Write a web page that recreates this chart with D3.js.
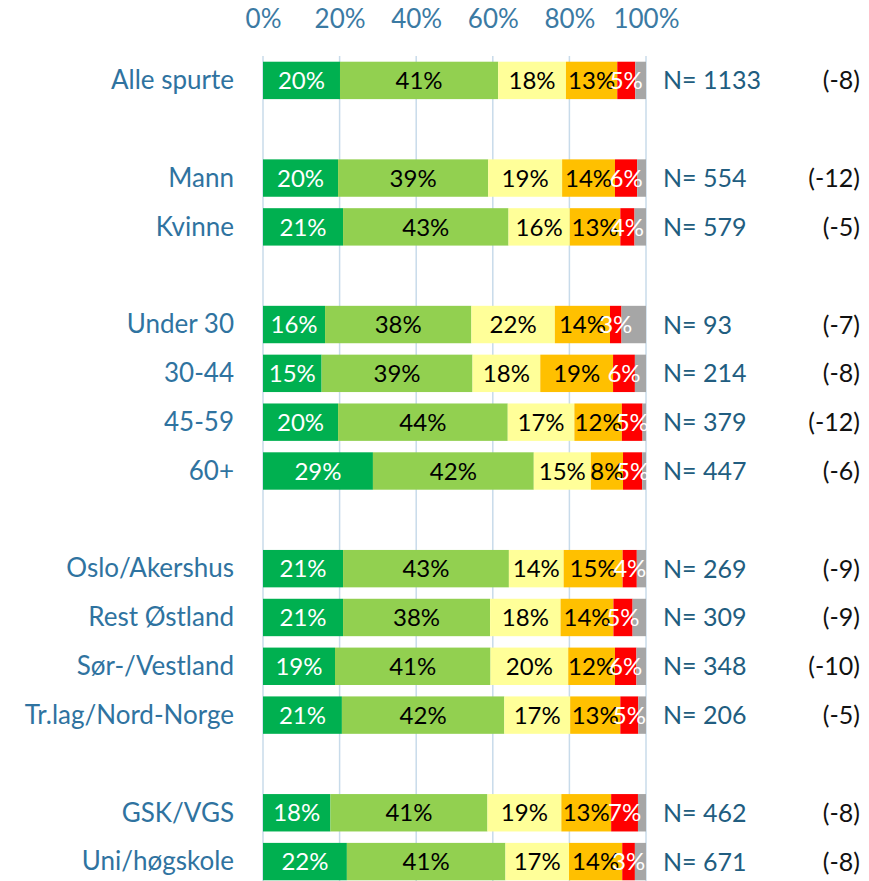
<!DOCTYPE html>
<html>
<head>
<meta charset="utf-8">
<script src="https://cdn.jsdelivr.net/npm/d3@7"></script>
<style>
  body { margin: 0; background: #fff; }
  svg { font-family: Lato, "Open Sans", sans-serif; }
</style>
</head>
<body>
<div id="chart"></div>
<script>
// rows of the chart, "" = empty spacer row
var categories = ["Alle spurte", "", "Mann", "Kvinne", "", "Under 30", "30-44", "45-59", "60+", "",
  "Oslo/Akershus", "Rest Østland", "Sør-/Vestland", "Tr.lag/Nord-Norge", "", "GSK/VGS", "Uni/høgskole"];

// shares in percent, one entry per non-empty row (grey = the rest up to 100)
var darkGreen  = [20.1, 19.6, 20.9, 16.2, 15.3, 19.6, 28.7, 20.9, 20.9, 18.8, 20.6, 17.6, 21.9];
var lightGreen = [41.3, 39.2, 43.2, 38.2, 39.4, 44.3, 42.0, 43.3, 38.4, 40.6, 42.4, 41.0, 41.4];
var yellow     = [17.7, 19.3, 16.0, 21.8, 17.7, 17.4, 14.9, 14.3, 18.4, 20.3, 17.2, 19.3, 16.6];
var orange     = [13.4, 13.8, 13.2, 14.4, 19.0, 12.4,  8.4, 15.4, 13.8, 12.2, 13.1, 13.0, 13.9];
var red        = [ 4.7,  5.8,  3.7,  3.0,  5.7,  5.4,  5.0,  3.7,  5.0,  5.6,  4.7,  7.0,  3.3];

var nValues = [1133, 554, 579, 93, 214, 379, 447, 269, 309, 348, 206, 462, 671];
var changes = ["(-8)", "(-12)", "(-5)", "(-7)", "(-8)", "(-12)", "(-6)", "(-9)", "(-9)", "(-10)", "(-5)", "(-8)", "(-8)"];

var tickValues = [0, 20, 40, 60, 80, 100];

var seriesList = [
  { values: darkGreen,  fill: "#00b050", text: "#ffffff" },
  { values: lightGreen, fill: "#92d050", text: "#000000" },
  { values: yellow,     fill: "#ffff99", text: "#000000" },
  { values: orange,     fill: "#ffc000", text: "#000000" },
  { values: red,        fill: "#ff0000", text: "#ffffff" }
];

var width = 869, height = 881;

var svg = d3.select("#chart").append("svg")
  .attr("width", width)
  .attr("height", height);

var x = d3.scaleLinear().domain([0, 100]).range([263, 646]);
var y = d3.scaleBand()
  .domain(d3.range(categories.length))
  .range([56, 886])
  .paddingInner(0.234)
  .paddingOuter(0.117);

// index of each real row in the band scale
var rowIdx = [];
categories.forEach(function(c, i) { if (c !== "") rowIdx.push(i); });

// gridlines
svg.append("g").selectAll("line")
  .data(tickValues)
  .enter().append("line")
  .attr("x1", function(d) { return x(d); })
  .attr("x2", function(d) { return x(d); })
  .attr("y1", 56)
  .attr("y2", height)
  .attr("stroke", "#c8dbea")
  .attr("stroke-width", 1.5);

// top axis labels
var axis = svg.append("g")
  .attr("transform", "translate(0,28)")
  .call(d3.axisTop(x).tickValues(tickValues).tickSize(0).tickPadding(0)
    .tickFormat(function(d) { return d + "%"; }));
axis.select(".domain").remove();
axis.selectAll("text")
  .attr("font-family", "Lato, 'Open Sans', sans-serif")
  .attr("font-size", 26)
  .attr("fill", "#3b7aa3")
  .attr("dy", "0em");

// build stacked segments
var segments = [];
rowIdx.forEach(function(row, k) {
  var start = 0;
  seriesList.forEach(function(s) {
    var v = s.values[k];
    segments.push({ row: row, x0: start, x1: start + v, fill: s.fill, text: s.text, label: Math.round(v) + "%" });
    start += v;
  });
  segments.push({ row: row, x0: start, x1: 100, fill: "#a6a6a6", text: null, label: "" });
});

var bars = svg.append("g");
bars.selectAll("rect")
  .data(segments)
  .enter().append("rect")
  .attr("x", function(d) { return x(d.x0); })
  .attr("width", function(d) { return x(d.x1) - x(d.x0); })
  .attr("y", function(d) { return y(d.row); })
  .attr("height", y.bandwidth())
  .attr("fill", function(d) { return d.fill; });

bars.selectAll("text")
  .data(segments.filter(function(d) { return d.label !== ""; }))
  .enter().append("text")
  .attr("x", function(d) { return (x(d.x0) + x(d.x1)) / 2; })
  .attr("y", function(d) { return y(d.row) + y.bandwidth() / 2; })
  .attr("dy", "0.36em")
  .attr("text-anchor", "middle")
  .attr("font-size", 24)
  .attr("fill", function(d) { return d.text; })
  .text(function(d) { return d.label; });

// category labels
svg.append("g").selectAll("text")
  .data(rowIdx)
  .enter().append("text")
  .attr("x", 234)
  .attr("y", function(d) { return y(d) + y.bandwidth() / 2; })
  .attr("dy", "0.34em")
  .attr("text-anchor", "end")
  .attr("font-size", 26)
  .attr("fill", "#2f73a0")
  .text(function(d) { return categories[d]; });

// N labels
svg.append("g").selectAll("text")
  .data(rowIdx)
  .enter().append("text")
  .attr("x", 663)
  .attr("y", function(d) { return y(d) + y.bandwidth() / 2; })
  .attr("dy", "0.36em")
  .attr("font-size", 25)
  .attr("fill", "#215d80")
  .text(function(d, k) { return "N= " + nValues[k]; });

// change labels
svg.append("g").selectAll("text")
  .data(rowIdx)
  .enter().append("text")
  .attr("x", 860)
  .attr("y", function(d) { return y(d) + y.bandwidth() / 2; })
  .attr("dy", "0.36em")
  .attr("text-anchor", "end")
  .attr("font-size", 25)
  .attr("fill", "#111")
  .text(function(d, k) { return changes[k]; });
</script>
</body>
</html>
